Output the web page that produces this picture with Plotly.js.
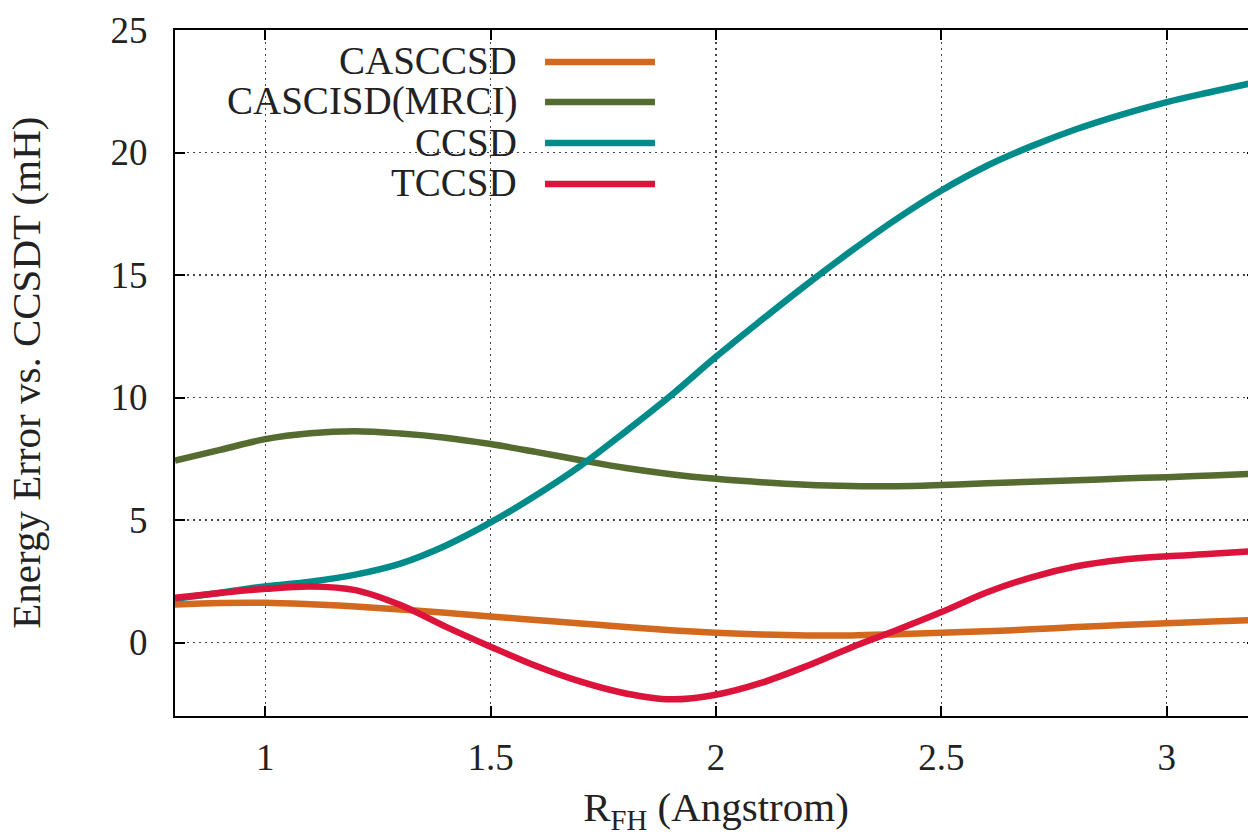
<!DOCTYPE html>
<html>
<head>
<meta charset="utf-8">
<script src="https://cdn.plot.ly/plotly-3.0.1.min.js"></script>
<style>
html, body { margin:0; padding:0; overflow:hidden; background:#fff; }
#chart { width:1262px; height:836px; }
</style>
</head>
<body>
<div id="chart"></div>
<script>
// ---- data ----
const rFH = [0.8,0.9,1.0,1.1,1.2,1.3,1.4,1.5,1.6,1.7,1.8,1.9,2.0,2.1,2.2,2.3,2.4,2.5,2.6,2.7,2.8,2.9,3.0,3.1,3.2];
const casccsd = [1.55,1.61,1.62,1.56,1.47,1.35,1.21,1.06,0.92,0.78,0.63,0.50,0.40,0.33,0.29,0.29,0.34,0.40,0.46,0.54,0.63,0.71,0.79,0.86,0.92];
const mrci    = [7.43,7.86,8.30,8.54,8.62,8.53,8.36,8.10,7.78,7.44,7.12,6.87,6.68,6.54,6.44,6.39,6.38,6.43,6.50,6.56,6.62,6.69,6.75,6.82,6.89];
const ccsd    = [1.78,2.03,2.29,2.48,2.77,3.22,3.95,4.90,6.00,7.22,8.62,10.08,11.66,13.15,14.60,15.98,17.28,18.45,19.45,20.26,20.96,21.55,22.06,22.48,22.88];
const tccsd   = [1.83,2.02,2.19,2.29,2.14,1.53,0.65,-0.17,-0.95,-1.60,-2.08,-2.32,-2.13,-1.65,-0.97,-0.20,0.50,1.24,2.04,2.66,3.11,3.38,3.52,3.62,3.74];

const seriesNames = ['CASCCSD','CASCISD(MRCI)','CCSD','TCCSD'];
const seriesColors = ['#D2691E','#556B2F','#008B8B','#DC143C'];
const seriesData = [casccsd, mrci, ccsd, tccsd];

const xTickVals = [1,1.5,2,2.5,3];
const xTickText = ['1','1.5','2','2.5','3'];
const yTickVals = [0,5,10,15,20,25];
const yTickText = ['0','5','10','15','20','25'];

const FONT = '"Liberation Serif", "DejaVu Serif", serif';
const TXT = '#222';

const traces = seriesData.map((y, i) => ({
  x: rFH, y: y, type: 'scatter', mode: 'lines', name: seriesNames[i],
  line: {color: seriesColors[i], width: 6.5, shape: 'spline', smoothing: 1},
  showlegend: false, hoverinfo: 'skip'
}));

// custom gnuplot-style key: text right-aligned, sample line to the right
const keyTextX = 0.318;
const keyLineX0 = 0.342, keyLineX1 = 0.4436;
const keyRowsY = [0.955, 0.8965, 0.8367, 0.777];
const annotations = seriesNames.map((n, i) => ({
  xref: 'paper', yref: 'paper', x: keyTextX, y: keyRowsY[i],
  xanchor: 'right', yanchor: 'middle', text: n, showarrow: false,
  font: {family: FONT, size: 39, color: TXT}
}));
annotations.push({
  xref: 'paper', yref: 'paper', x: -0.138, y: 0.5, xanchor: 'center', yanchor: 'middle',
  textangle: -90, showarrow: false, text: 'Energy Error vs. CCSDT (mH)',
  font: {family: FONT, size: 41, color: TXT}
});
const shapes = [{
  type: 'rect', xref: 'paper', yref: 'paper', x0: 0.0213, x1: 0.4667, y0: 0.742, y1: 0.9927,
  fillcolor: '#fff', line: {width: 0}, layer: 'between'
}].concat(seriesNames.map((n, i) => ({
  type: 'line', xref: 'paper', yref: 'paper', x0: keyLineX0, x1: keyLineX1,
  y0: keyRowsY[i] - 0.0015, y1: keyRowsY[i] - 0.0015,
  line: {color: seriesColors[i], width: 6.5}, layer: 'above'
})));

const axisCommon = {
  showline: true, linecolor: '#000', linewidth: 2, mirror: 'ticks',
  ticks: 'inside', ticklen: 10, tickwidth: 2, tickcolor: '#000',
  showgrid: true, gridcolor: '#444', gridwidth: 1.2, griddash: '2px,4px',
  zeroline: false, tickfont: {family: FONT, size: 37, color: TXT}
};

const layout = {
  width: 1262, height: 836,
  margin: {l: 175, r: 5, t: 30, b: 120},
  paper_bgcolor: '#fff', plot_bgcolor: '#fff',
  font: {family: FONT, color: TXT},
  xaxis: Object.assign({}, axisCommon, {
    range: [0.8, 3.2], tickmode: 'array', tickvals: xTickVals, ticktext: xTickText,
    ticklabelstandoff: 8,
    title: {text: 'R<sub>FH</sub> (Angstrom)', font: {family: FONT, size: 41, color: TXT}, standoff: 28}
  }),
  yaxis: Object.assign({}, axisCommon, {
    range: [-3, 25], tickmode: 'array', tickvals: yTickVals, ticktext: yTickText,
    ticklabelstandoff: 18
  }),
  annotations: annotations,
  shapes: shapes,
  showlegend: false
};

Plotly.newPlot('chart', traces, layout, {displayModeBar: false, staticPlot: true});
</script>
</body>
</html>
